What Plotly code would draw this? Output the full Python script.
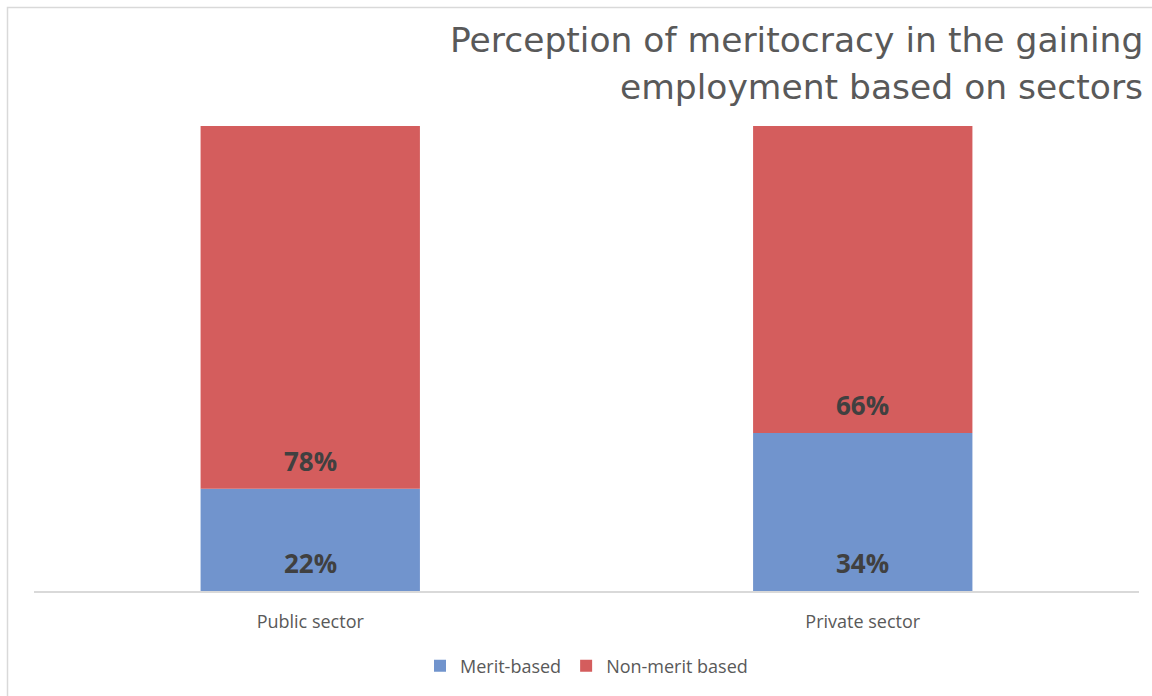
import plotly.graph_objects as go

# Survey shares (%) by sector
categories = ["Public sector", "Private sector"]
merit_based = [22, 34]
non_merit_based = [78, 66]
title_lines = ["Perception of meritocracy in the gaining", "employment based on sectors"]

BLUE = "#7194CD"
RED = "#D45D5D"
LABEL_COLOR = "#404040"
TEXT_GRAY = "#595959"

# Plot-area geometry in pixels
W, H = 1152, 696
ML, MR, MT, MB = 34, 13, 126, 105
PW, PH = W - ML - MR, H - MT - MB


def px_x(x):
    return (x - ML) / PW


def px_y(y):
    return (H - y - MB) / PH


fig = go.Figure()
fig.add_trace(go.Bar(
    name="Merit-based", x=categories, y=merit_based,
    marker=dict(color=BLUE, line=dict(width=0)),
))
fig.add_trace(go.Bar(
    name="Non-merit based", x=categories, y=non_merit_based, base=merit_based,
    marker=dict(color=RED, line=dict(width=0)),
))

# Value labels sit just above the base of each segment
label_font = dict(family="Open Sans", size=26, color=LABEL_COLOR)
for cat, m, n in zip(categories, merit_based, non_merit_based):
    fig.add_annotation(x=cat, y=0, text=f"<b>{m}%</b>", showarrow=False,
                       yanchor="bottom", yshift=8, font=label_font)
    fig.add_annotation(x=cat, y=m, text=f"<b>{n}%</b>", showarrow=False,
                       yanchor="bottom", yshift=8, font=label_font)

# Right-aligned two-line title
for i, line in enumerate(title_lines):
    fig.add_annotation(xref="paper", yref="paper", x=px_x(1145), y=px_y(40 + 47 * i),
                       xanchor="right", yanchor="middle", showarrow=False, text=line,
                       font=dict(family="DejaVu Sans", size=34.5, color=TEXT_GRAY))

# Chart frame
fig.add_shape(type="rect", xref="paper", yref="paper",
              x0=px_x(7.5), x1=px_x(1170), y0=-0.5, y1=px_y(7.5),
              line=dict(color="#D9D9D9", width=1.5), layer="below")

fig.update_layout(
    width=W, height=H,
    barmode="overlay", bargap=0.603,
    paper_bgcolor="white", plot_bgcolor="white",
    margin=dict(l=ML, r=MR, t=MT, b=MB),
    xaxis=dict(showline=True, linecolor="#D9D9D9", linewidth=1.5,
               ticks="", ticklabelstandoff=14,
               tickfont=dict(family="Open Sans", size=18, color=TEXT_GRAY)),
    yaxis=dict(range=[0, 100], showgrid=False, showticklabels=False,
               zeroline=False, showline=False),
    legend=dict(orientation="h", x=0.5, xanchor="center", y=px_y(666), yanchor="middle",
                font=dict(family="Open Sans", size=18, color=TEXT_GRAY),
                itemwidth=30, traceorder="normal"),
    showlegend=True,
)

fig.write_html("out.html")
